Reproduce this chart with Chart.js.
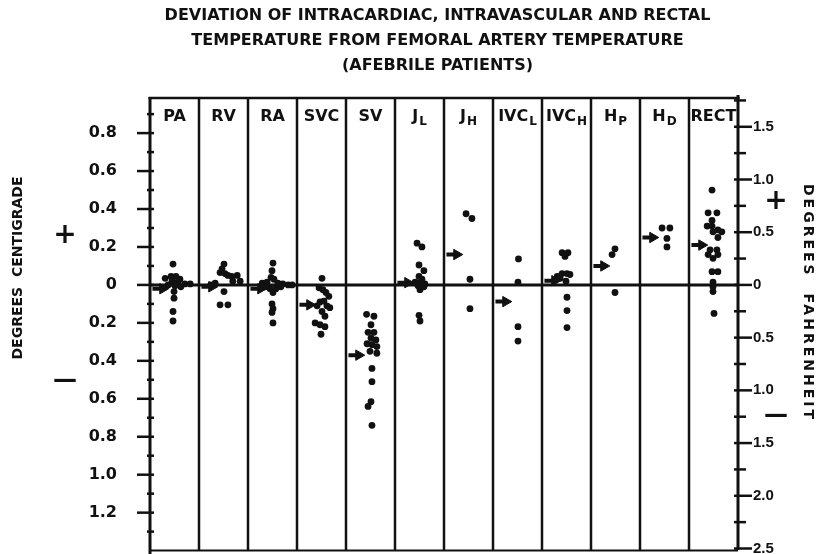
<!DOCTYPE html>
<html><head><meta charset="utf-8">
<script src="https://cdn.jsdelivr.net/npm/chart.js@4/dist/chart.umd.min.js"></script>
<style>html,body{margin:0;padding:0;background:#fff;}canvas{display:block;}</style>
</head><body>
<canvas id="c" width="823" height="554"></canvas>
<script>
const titleLines = [
  'DEVIATION OF INTRACARDIAC, INTRAVASCULAR AND RECTAL',
  'TEMPERATURE FROM FEMORAL ARTERY TEMPERATURE',
  '(AFEBRILE PATIENTS)'
];
const categoryNames = ['PA','RV','RA','SVC','SV','J','J','IVC','IVC','H','H','RECT'];
const categorySubscripts = ['','','','','','L','H','L','H','P','D',''];
const leftAxisTitle = 'DEGREES  CENTIGRADE';
const rightAxisTitle = 'DEGREES  FAHRENHEIT';

// mean deviation (°C) shown by the arrow in each column
const meanDeviation = [-0.02, -0.01, -0.02, -0.105, -0.37, 0.012, 0.16, -0.088, 0.022, 0.10, 0.25, 0.21];

// individual patients: [place across the column 0..1, deviation °C]
const dotsPA = [[0.47,0.11],[0.31,0.035],[0.43,0.045],[0.53,0.045],[0.61,0.03],[0.45,0.02],[0.57,0.015],[0.71,0.005],[0.82,0.005],[0.37,0.0],[0.51,-0.005],[0.63,-0.01],[0.49,-0.035],[0.49,-0.07],[0.47,-0.14],[0.47,-0.19]];
const dotsRV = [[0.51,0.11],[0.47,0.085],[0.43,0.065],[0.53,0.06],[0.59,0.05],[0.67,0.045],[0.78,0.05],[0.84,0.02],[0.69,0.02],[0.33,0.01],[0.24,0.0],[0.51,-0.035],[0.43,-0.105],[0.59,-0.105]];
const dotsRA = [[0.51,0.115],[0.49,0.075],[0.47,0.04],[0.53,0.03],[0.29,0.01],[0.39,0.015],[0.61,0.01],[0.71,0.005],[0.82,0.0],[0.90,0.0],[0.35,-0.01],[0.45,-0.02],[0.57,-0.02],[0.67,-0.01],[0.51,-0.04],[0.49,-0.10],[0.51,-0.125],[0.49,-0.145],[0.51,-0.20]];
const dotsSVC = [[0.51,0.035],[0.45,-0.015],[0.53,-0.025],[0.59,-0.04],[0.65,-0.06],[0.47,-0.09],[0.55,-0.085],[0.61,-0.11],[0.67,-0.12],[0.41,-0.11],[0.51,-0.14],[0.57,-0.165],[0.37,-0.20],[0.47,-0.21],[0.57,-0.22],[0.49,-0.26]];
const dotsSV = [[0.42,-0.155],[0.57,-0.165],[0.51,-0.21],[0.45,-0.25],[0.57,-0.25],[0.51,-0.28],[0.61,-0.29],[0.43,-0.31],[0.53,-0.315],[0.63,-0.325],[0.49,-0.35],[0.63,-0.36],[0.53,-0.44],[0.53,-0.51],[0.51,-0.615],[0.45,-0.64],[0.53,-0.74]];
const dotsJL = [[0.45,0.22],[0.55,0.20],[0.49,0.105],[0.59,0.075],[0.49,0.045],[0.55,0.03],[0.41,0.015],[0.51,0.01],[0.61,0.005],[0.47,-0.005],[0.59,-0.01],[0.51,-0.025],[0.49,-0.16],[0.51,-0.19]];
const dotsJH = [[0.45,0.375],[0.57,0.35],[0.53,0.03],[0.53,-0.125]];
const dotsIVCL = [[0.52,0.137],[0.51,0.014],[0.51,-0.22],[0.51,-0.296]];
const dotsIVCH = [[0.41,0.17],[0.53,0.17],[0.47,0.15],[0.41,0.06],[0.51,0.06],[0.57,0.055],[0.31,0.045],[0.37,0.035],[0.49,0.02],[0.51,-0.065],[0.51,-0.135],[0.51,-0.225]];
const dotsHP = [[0.49,0.19],[0.43,0.16],[0.49,-0.04]];
const dotsHD = [[0.45,0.30],[0.61,0.30],[0.55,0.245],[0.55,0.20]];
const dotsRECT = [[0.47,0.50],[0.39,0.38],[0.57,0.38],[0.47,0.34],[0.37,0.31],[0.47,0.31],[0.59,0.29],[0.67,0.28],[0.49,0.28],[0.59,0.25],[0.43,0.185],[0.57,0.185],[0.39,0.16],[0.59,0.16],[0.49,0.14],[0.47,0.07],[0.59,0.07],[0.49,0.015],[0.49,-0.01],[0.49,-0.035],[0.51,-0.15]];

const celsiusTickValues = [-1.2,-1.0,-0.8,-0.6,-0.4,-0.2,0,0.2,0.4,0.6,0.8];
const celsiusTickLabels = ['1.2','1.0','0.8','0.6','0.4','0.2','0','0.2','0.4','0.6','0.8'];
const fahrenheitTickValues = [-2.5,-2.0,-1.5,-1.0,-0.5,0,0.5,1.0,1.5];
const fahrenheitTickLabels = ['2.5','2.0','1.5','1.0','0.5','0','0.5','1.0','1.5'];

const INK = '#111111';
const C_MIN = -1.4, C_MAX = 0.985;

const dotGroups = [dotsPA,dotsRV,dotsRA,dotsSVC,dotsSV,dotsJL,dotsJH,dotsIVCL,dotsIVCH,dotsHP,dotsHD,dotsRECT];
const dotPoints = [];
dotGroups.forEach((g,i)=>g.forEach(([o,v])=>dotPoints.push({x:i+o,y:v})));
const ARROW_START = 0.05, ARROW_END = 0.26;
const arrowPoints = [];
meanDeviation.forEach((m,i)=>{arrowPoints.push({x:i+ARROW_START,y:m},{x:i+ARROW_END,y:m},{x:i+0.5,y:null});});

const frame = {
  id:'frame',
  beforeDatasetsDraw(chart){
    const {ctx, chartArea:a, scales} = chart;
    const xs = scales.x, ys = scales.y, yf = scales.y1;
    const seg=(x1,y1,x2,y2,w)=>{ctx.lineWidth=w;ctx.beginPath();ctx.moveTo(x1,y1);ctx.lineTo(x2,y2);ctx.stroke();};
    ctx.save();
    ctx.strokeStyle=INK; ctx.lineCap='butt';
    seg(a.left-1.5,a.top,a.right+1.5,a.top,2.5);
    seg(a.left,a.top-1,a.left,chart.height,3);
    const fb = yf.getPixelForValue(-2.5);
    seg(a.right,a.top-3,a.right,fb+1.5,3);
    seg(a.left,a.bottom,a.right,a.bottom,2);
    for(let i=1;i<categoryNames.length;i++){const p=xs.getPixelForValue(i);seg(p,a.top,p,a.bottom,2.5);}
    const z=ys.getPixelForValue(0); seg(a.left,z,a.right,z,3);
    celsiusTickValues.forEach(v=>{const p=ys.getPixelForValue(v);seg(a.left-13,p,a.left+4,p,2.5);});
    celsiusTickValues.map(v=>+(v-0.1).toFixed(2)).concat([0.9]).forEach(v=>{const p=ys.getPixelForValue(v);seg(a.left-3,p,a.left+4,p,2.5);});
    fahrenheitTickValues.forEach(v=>{const p=yf.getPixelForValue(v);seg(a.right-4,p,a.right+14,p,2.5);});
    fahrenheitTickValues.map(v=>+(v+0.25).toFixed(2)).forEach(v=>{const p=yf.getPixelForValue(v);seg(a.right-4,p,a.right+8,p,2.5);});
    ctx.restore();
  },
  afterDraw(chart){
    const {ctx, chartArea:a, scales} = chart;
    const xs = scales.x;
    ctx.save();
    ctx.fillStyle=INK;
    categoryNames.forEach((name,i)=>{
      const sub = categorySubscripts[i];
      ctx.font='bold 16px "DejaVu Sans"';
      const w1 = ctx.measureText(name).width;
      ctx.font='bold 12px "DejaVu Sans"';
      const w2 = sub ? ctx.measureText(sub).width+1 : 0;
      const cx = xs.getPixelForValue(i+0.5);
      let x0 = cx-(w1+w2)/2;
      ctx.textAlign='left'; ctx.textBaseline='alphabetic';
      ctx.font='bold 16px "DejaVu Sans"';
      ctx.fillText(name,x0,a.top+23);
      if(sub){ctx.font='bold 12px "DejaVu Sans"';ctx.fillText(sub,x0+w1+1,a.top+27);}
    });
    ctx.textAlign='center'; ctx.textBaseline='middle';
    ctx.save();
    ctx.translate(18,268); ctx.rotate(-Math.PI/2);
    ctx.font='bold 14px "DejaVu Sans"';
    ctx.fillText(leftAxisTitle,0,0);
    ctx.restore();
    ctx.save();
    ctx.translate(808,303); ctx.rotate(Math.PI/2);
    ctx.font='bold 14px "DejaVu Sans"';
    ctx.letterSpacing='3px';
    ctx.fillText(rightAxisTitle,0,0);
    ctx.restore();
    ctx.font='bold 28px "DejaVu Sans"';
    ctx.fillText('+',65,236);
    ctx.fillText('+',776,202);
    ctx.font='bold 24px "DejaVu Sans"';
    ctx.fillText('\u2014',65,381);
    ctx.fillText('\u2014',776,416);
    ctx.restore();
  }
};

const fixVertical = w => s => { s.width = w; s.paddingTop = 0; s.paddingBottom = 0; };

new Chart(document.getElementById('c'),{
  data:{datasets:[
    {type:'scatter',data:dotPoints,pointRadius:3.4,pointHoverRadius:3.4,pointBackgroundColor:INK,pointBorderWidth:0,borderWidth:0},
    {type:'line',data:arrowPoints,spanGaps:false,borderColor:INK,borderWidth:4,borderCapStyle:'butt',
     pointStyle:'triangle',rotation:90,pointRadius:c=>c.dataIndex%3===1?6:0,pointHoverRadius:c=>c.dataIndex%3===1?6:0,
     pointBackgroundColor:INK,pointBorderColor:INK,pointBorderWidth:1}
  ]},
  options:{
    responsive:false, animation:false, devicePixelRatio:1,
    layout:{padding:{left:52,right:0,top:0,bottom:3}},
    plugins:{
      legend:{display:false}, tooltip:{enabled:false},
      title:{display:true,text:titleLines,color:INK,
        font:{family:'DejaVu Sans',weight:'bold',size:16,lineHeight:1.5625},
        padding:{top:3.5,bottom:19.5}}
    },
    scales:{
      x:{type:'linear',min:0,max:12,display:false},
      y:{type:'linear',position:'left',min:C_MIN,max:C_MAX,
        afterBuildTicks:s=>{s.ticks=celsiusTickValues.map(v=>({value:v}));},
        afterFit:fixVertical(98),
        grid:{display:false},border:{display:false},
        ticks:{autoSkip:false,padding:25,color:INK,font:{family:'DejaVu Sans',weight:'bold',size:16},
          callback:v=>celsiusTickLabels[celsiusTickValues.indexOf(v)]}},
      y1:{type:'linear',position:'right',min:C_MIN*1.8,max:C_MAX*1.8,
        afterBuildTicks:s=>{s.ticks=fahrenheitTickValues.map(v=>({value:v}));},
        afterFit:fixVertical(85),
        grid:{display:false},border:{display:false},
        ticks:{autoSkip:false,padding:7,color:INK,font:{family:'Liberation Sans',weight:'bold',size:15},
          callback:v=>fahrenheitTickLabels[fahrenheitTickValues.indexOf(v)]}}
    }
  },
  plugins:[frame]
});
</script>
</body></html>
